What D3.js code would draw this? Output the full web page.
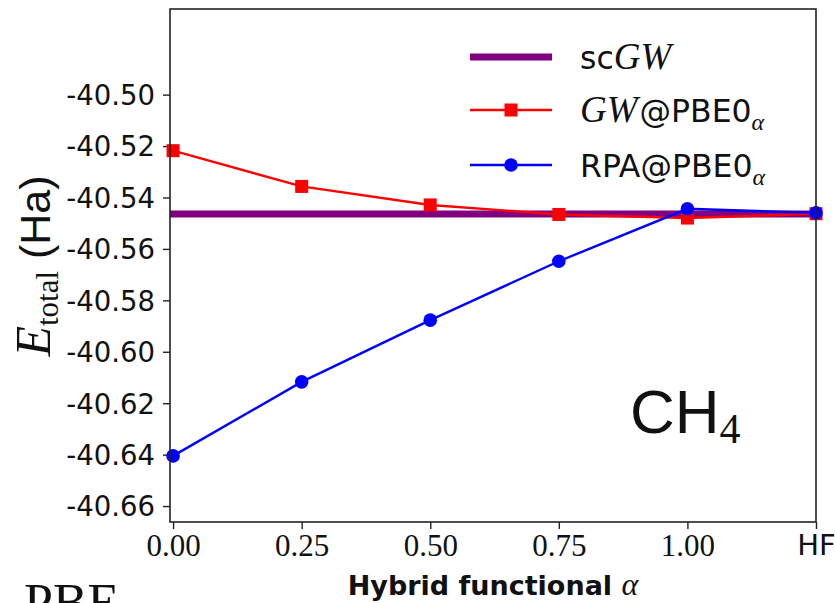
<!DOCTYPE html>
<html>
<head>
<meta charset="utf-8">
<script src="https://cdn.jsdelivr.net/npm/d3@7"></script>
<style>
  body { margin: 0; background: #fff; }
  svg { display: block; }
</style>
</head>
<body>
<div id="chart"></div>
<script>
// alpha values, HF is placed at 1.25
var alphaVals = [0, 0.25, 0.5, 0.75, 1.0, 1.25];
var xTickLabels = ["0.00", "0.25", "0.50", "0.75", "1.00", "HF"];
var yTickVals = [-40.50, -40.52, -40.54, -40.56, -40.58, -40.60, -40.62, -40.64, -40.66];

var gwPbe0 = [-40.5218, -40.5357, -40.5429, -40.5466, -40.5480, -40.5463];
var rpaPbe0 = [-40.6405, -40.6117, -40.5877, -40.5648, -40.5444, -40.5460];
var scGW = -40.5464;

var W = 835, H = 603;
var margin = {top: 9, right: 19, bottom: 81, left: 170};
var width = W - margin.left - margin.right;
var height = H - margin.top - margin.bottom;

var svg = d3.select("#chart").append("svg")
  .attr("width", W)
  .attr("height", H);

var x = d3.scaleLinear().domain([-0.006, 1.25]).range([0, width]);
var y = d3.scaleLinear().domain([-40.6662, -40.4667]).range([height, 0]);

var g = svg.append("g")
  .attr("transform", "translate(" + margin.left + "," + margin.top + ")");

// axes
var yAxis = d3.axisLeft(y).tickValues(yTickVals).tickSize(7).tickPadding(8)
  .tickFormat(function(d){ return d3.format(".2f")(d).replace("−", "-"); });
var xAxis = d3.axisBottom(x).tickValues(alphaVals).tickSize(7).tickPadding(8)
  .tickFormat(function(d, i){ return xTickLabels[i]; });

var gy = g.append("g").attr("class", "y axis").call(yAxis);
gy.select(".domain").remove();
gy.selectAll("line").attr("stroke", "#222").attr("stroke-width", 1.4);
gy.selectAll("text")
  .attr("font-family", "DejaVu Sans")
  .attr("font-size", 27.5)
  .attr("fill", "#111")
  .attr("dy", "0.36em");

var gx = g.append("g").attr("class", "x axis")
  .attr("transform", "translate(0," + height + ")")
  .call(xAxis);
gx.select(".domain").remove();
gx.selectAll("line").attr("stroke", "#222").attr("stroke-width", 1.4);
gx.selectAll("text")
  .attr("font-family", function(d, i){ return i == 5 ? "DejaVu Sans" : "Liberation Serif"; })
  .attr("font-size", function(d, i){ return i == 5 ? 29 : 31; })
  .attr("fill", "#111")
  .attr("dy", "0.62em");

// scGW line
g.append("line")
  .attr("x1", 0).attr("x2", width)
  .attr("y1", y(scGW)).attr("y2", y(scGW))
  .attr("stroke", "#800080")
  .attr("stroke-width", 7);

var line = d3.line()
  .x(function(d, i){ return x(alphaVals[i]); })
  .y(function(d){ return y(d); });

g.append("path")
  .datum(gwPbe0)
  .attr("d", line)
  .attr("fill", "none")
  .attr("stroke", "#ff0000")
  .attr("stroke-width", 2.4);

g.selectAll("rect.gw")
  .data(gwPbe0)
  .enter().append("rect")
  .attr("class", "gw")
  .attr("x", function(d, i){ return x(alphaVals[i]) - 6.5; })
  .attr("y", function(d){ return y(d) - 6.5; })
  .attr("width", 13).attr("height", 13)
  .attr("fill", "#ff0000");

g.append("path")
  .datum(rpaPbe0)
  .attr("d", line)
  .attr("fill", "none")
  .attr("stroke", "#0000ff")
  .attr("stroke-width", 2.4);

g.selectAll("circle.rpa")
  .data(rpaPbe0)
  .enter().append("circle")
  .attr("class", "rpa")
  .attr("cx", function(d, i){ return x(alphaVals[i]); })
  .attr("cy", function(d){ return y(d); })
  .attr("r", 6.8)
  .attr("fill", "#0000ff");

// frame
g.append("rect")
  .attr("x", 0).attr("y", 0)
  .attr("width", width).attr("height", height)
  .attr("fill", "none")
  .attr("stroke", "#222")
  .attr("stroke-width", 1.6);

// legend
var legend = svg.append("g").attr("class", "legend");
var lx1 = 470, lx2 = 552, tx = 580;
var rows = [57, 110, 165];

legend.append("line").attr("x1", lx1).attr("x2", lx2).attr("y1", rows[0]).attr("y2", rows[0])
  .attr("stroke", "#800080").attr("stroke-width", 7);
legend.append("line").attr("x1", lx1).attr("x2", lx2).attr("y1", rows[1]).attr("y2", rows[1])
  .attr("stroke", "#ff0000").attr("stroke-width", 2.4);
legend.append("rect").attr("x", (lx1 + lx2) / 2 - 6.5).attr("y", rows[1] - 6.5)
  .attr("width", 13).attr("height", 13).attr("fill", "#ff0000");
legend.append("line").attr("x1", lx1).attr("x2", lx2).attr("y1", rows[2]).attr("y2", rows[2])
  .attr("stroke", "#0000ff").attr("stroke-width", 2.4);
legend.append("circle").attr("cx", (lx1 + lx2) / 2).attr("cy", rows[2])
  .attr("r", 6.8).attr("fill", "#0000ff");

var lfs = 31.5;
var t0 = legend.append("text").attr("x", tx).attr("y", rows[0] + 12)
  .attr("font-size", lfs).attr("fill", "#111");
t0.append("tspan").attr("font-family", "DejaVu Sans").text("sc");
t0.append("tspan").attr("font-family", "Liberation Serif").attr("font-style", "italic")
  .attr("font-size", 37).text("GW");

var t1 = legend.append("text").attr("x", tx).attr("y", rows[1] + 12)
  .attr("font-size", lfs).attr("fill", "#111");
t1.append("tspan").attr("font-family", "Liberation Serif").attr("font-style", "italic")
  .attr("font-size", 37).text("GW");
t1.append("tspan").attr("font-family", "DejaVu Sans").attr("dx", 2).text("@PBE0");
t1.append("tspan").attr("font-family", "Liberation Serif").attr("font-style", "italic")
  .attr("font-size", 24).attr("dy", 8).text("α");

var t2 = legend.append("text").attr("x", tx).attr("y", rows[2] + 12)
  .attr("font-size", lfs).attr("fill", "#111");
t2.append("tspan").attr("font-family", "DejaVu Sans").text("RPA@PBE0");
t2.append("tspan").attr("font-family", "Liberation Serif").attr("font-style", "italic")
  .attr("font-size", 24).attr("dy", 8).text("α");

// molecule label
var ch = svg.append("text").attr("x", 630).attr("y", 433).attr("fill", "#111");
ch.append("tspan").attr("font-family", "Liberation Sans").attr("font-size", 62).text("CH");
ch.append("tspan").attr("font-family", "Liberation Serif").attr("font-size", 42)
  .attr("dy", 10).text("4");

// y label
var yl = svg.append("text")
  .attr("transform", "translate(50," + 266 + ") rotate(-90)")
  .attr("text-anchor", "middle")
  .attr("fill", "#111");
yl.append("tspan").attr("font-family", "Liberation Serif").attr("font-style", "italic")
  .attr("font-size", 50).text("E");
yl.append("tspan").attr("font-family", "Liberation Serif").attr("font-size", 31)
  .attr("dy", 8).text("total");
yl.append("tspan").attr("font-family", "Liberation Sans").attr("font-size", 43)
  .attr("dy", -8).text(" (Ha)");

// x label
var xl = svg.append("text")
  .attr("x", margin.left + width / 2)
  .attr("y", 595)
  .attr("text-anchor", "middle")
  .attr("fill", "#111");
xl.append("tspan").attr("font-family", "DejaVu Sans").attr("font-weight", "bold")
  .attr("font-size", 27).text("Hybrid functional ");
xl.append("tspan").attr("font-family", "Liberation Serif").attr("font-style", "italic")
  .attr("font-size", 32).text("α");

// clipped text from neighbouring panel
svg.append("text")
  .attr("x", 24).attr("y", 620)
  .attr("font-family", "Liberation Serif")
  .attr("font-size", 52)
  .attr("fill", "#111")
  .text("PBE");
</script>
</body>
</html>
